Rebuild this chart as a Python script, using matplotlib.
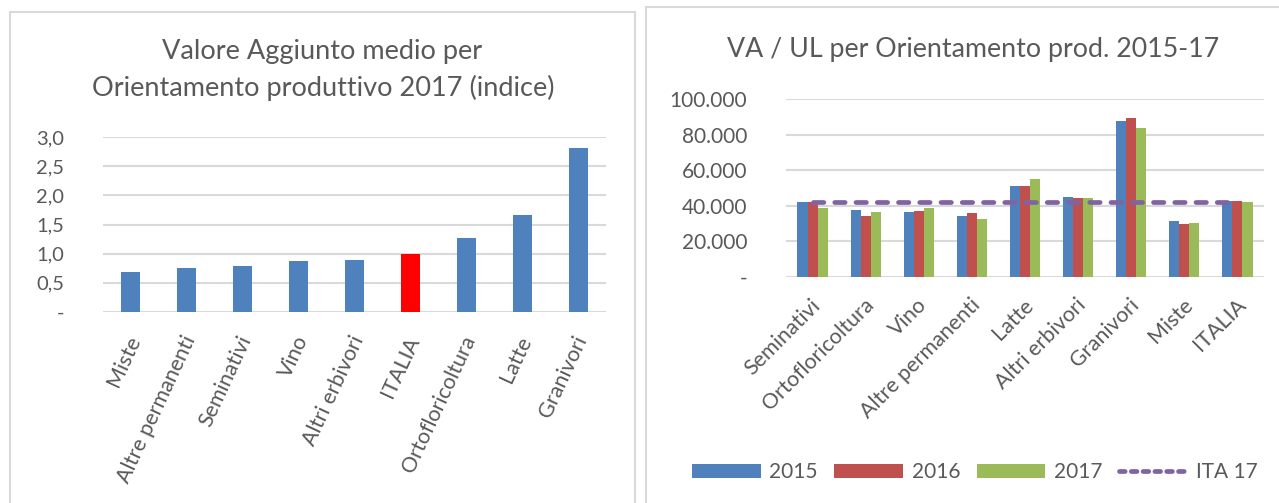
import matplotlib
matplotlib.use("Agg")
import matplotlib.pyplot as plt
from matplotlib.patches import Rectangle, Patch
from matplotlib.lines import Line2D
import matplotlib.transforms as mtransforms
import numpy as np

plt.rcParams['font.family'] = ['Lato', 'DejaVu Sans']

# Left chart data
left_cats = ["Miste", "Altre permanenti", "Seminativi", "Vino", "Altri erbivori",
             "ITALIA", "Ortofloricoltura", "Latte", "Granivori"]
left_vals = [0.69, 0.76, 0.79, 0.87, 0.89, 1.0, 1.27, 1.66, 2.81]
left_ticks = [0, 0.5, 1.0, 1.5, 2.0, 2.5, 3.0]
left_ticklabels = ["-", "0,5", "1,0", "1,5", "2,0", "2,5", "3,0"]

# Right chart data
right_cats = ["Seminativi", "Ortofloricoltura", "Vino", "Altre permanenti", "Latte",
              "Altri erbivori", "Granivori", "Miste", "ITALIA"]
va_2015 = [42100, 37800, 36300, 34200, 51400, 45000, 87500, 31200, 42700]
va_2016 = [42300, 34200, 37200, 35700, 51400, 44300, 89500, 29900, 42800]
va_2017 = [38500, 36300, 38500, 32700, 55000, 44300, 83700, 30500, 42200]
ita_17 = [42200] * 9
right_ticks = [0, 20000, 40000, 60000, 80000, 100000]
right_ticklabels = ["-", "20.000", "40.000", "60.000", "80.000", "100.000"]
series_names = ["2015", "2016", "2017", "ITA 17"]

W, H = 1279, 503
fig = plt.figure(figsize=(W / 100, H / 100), dpi=100)

def fx(px):
    return px / W

def fy(py):
    return 1 - py / H

text_color = "#595959"
grid_color = "#D9D9D9"
border_color = "#D9D9D9"

# panel borders
fig.patches.append(Rectangle((fx(10), fy(510)), fx(625), (510 - 12) / H,
                             transform=fig.transFigure, fill=False,
                             edgecolor=border_color, linewidth=1.5))
fig.patches.append(Rectangle((fx(646), fy(510)), fx(640), (510 - 7) / H,
                             transform=fig.transFigure, fill=False,
                             edgecolor=border_color, linewidth=1.5))

def shift_labels(ax, dx_px, dy_px):
    off = mtransforms.ScaledTranslation(dx_px / 100, dy_px / 100, fig.dpi_scale_trans)
    for lab in ax.get_xticklabels():
        lab.set_transform(lab.get_transform() + off)

# Left axes
ax1 = fig.add_axes([fx(103), fy(312), fx(606 - 103), (312 - 137) / H])
x = np.arange(len(left_cats))
colors = ["#FF0000" if c == "ITALIA" else "#4F81BD" for c in left_cats]
ax1.bar(x, left_vals, width=0.34, color=colors, zorder=3)
ax1.set_xlim(-0.5, len(left_cats) - 0.5)
ax1.set_ylim(0, 3.0)
ax1.set_yticks(left_ticks)
ax1.set_yticklabels(left_ticklabels)
ax1.set_xticks(x)
ax1.set_xticklabels(left_cats, rotation=65, ha="right", va="center",
                    rotation_mode="anchor")
ax1.grid(axis="y", color=grid_color, linewidth=1.5, zorder=0)
ax1.set_axisbelow(True)
for s in ax1.spines.values():
    s.set_visible(False)
ax1.tick_params(axis="y", length=0, labelsize=14.5, colors=text_color, pad=28)
ax1.tick_params(axis="x", length=0, labelsize=15.5, colors=text_color, pad=18)
shift_labels(ax1, 4, 0)
fig.text(fx(322), fy(52), "Valore Aggiunto medio per", ha="center", va="center",
         fontsize=19.5, color=text_color)
fig.text(fx(323), fy(88), "Orientamento produttivo 2017 (indice)", ha="center",
         va="center", fontsize=19.5, color=text_color)

# Right axes
ax2 = fig.add_axes([fx(786), fy(277), fx(1264 - 786), (277 - 99) / H])
x2 = np.arange(len(right_cats))
bw = 0.19
ax2.bar(x2 - bw, va_2015, width=bw, color="#4F81BD", zorder=3)
ax2.bar(x2, va_2016, width=bw, color="#C0504D", zorder=3)
ax2.bar(x2 + bw, va_2017, width=bw, color="#9BBB59", zorder=3)
ax2.plot(x2, ita_17, color="#8064A2", linewidth=3.4, dashes=(2.2, 2.3),
         dash_capstyle="round", zorder=4)
ax2.set_xlim(-0.5, len(right_cats) - 0.5)
ax2.set_ylim(0, 100000)
ax2.set_yticks(right_ticks)
ax2.set_yticklabels(right_ticklabels)
ax2.set_xticks(x2)
ax2.set_xticklabels(right_cats, rotation=45, ha="right", va="center",
                    rotation_mode="anchor")
ax2.grid(axis="y", color=grid_color, linewidth=1.5, zorder=0)
ax2.set_axisbelow(True)
for s in ax2.spines.values():
    s.set_visible(False)
ax2.tick_params(axis="y", length=0, labelsize=15, colors=text_color, pad=28)
ax2.tick_params(axis="x", length=0, labelsize=15.5, colors=text_color, pad=18)
shift_labels(ax2, 5, 0)
fig.text(fx(973), fy(49), "VA / UL per Orientamento prod. 2015-17", ha="center",
         va="center", fontsize=19.3, color=text_color)

handles = [
    Patch(facecolor="#4F81BD"),
    Patch(facecolor="#C0504D"),
    Patch(facecolor="#9BBB59"),
    Line2D([0], [0], color="#8064A2", linewidth=3.4, dashes=(1.2, 1.3),
           dash_capstyle="round"),
]
leg = fig.legend(handles, series_names, loc="center",
                 bbox_to_anchor=(fx(975), fy(472)), ncol=4, frameon=False,
                 fontsize=15, handlelength=3.3, handleheight=0.65,
                 columnspacing=0.8, handletextpad=0.4)
for t in leg.get_texts():
    t.set_color(text_color)

fig.savefig("out.png", dpi=100, facecolor="white")
